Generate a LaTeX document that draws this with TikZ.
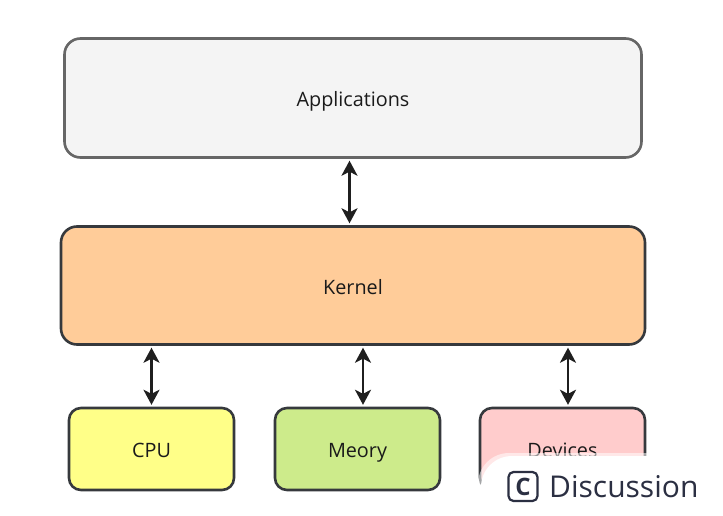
\documentclass[tikz,border=0pt]{standalone}
\usepackage{fontspec}
\setmainfont{Open Sans}
\usetikzlibrary{arrows.meta,calc}
\definecolor{edgedark}{HTML}{36393D}
\definecolor{edgegray}{HTML}{666666}
\definecolor{arrowcol}{HTML}{1F1F1F}
\definecolor{dtext}{HTML}{1A1A1A}
\definecolor{disctext}{HTML}{2B2F42}
\tikzset{
  x=1pt,y=-1pt,
  boxbase/.style={draw=edgedark,line width=2.6pt,rounded corners=12pt,anchor=north west,inner sep=0pt,outer sep=0pt,text=dtext,font=\fontsize{19.8}{22}\selectfont,text height=17.5pt,text depth=0pt},
  largebox/.style={boxbase,rounded corners=16pt},
  biarrow/.style={{Stealth[length=15pt,width=16pt,inset=4pt]}-{Stealth[length=15pt,width=16pt,inset=4pt]},line width=2.4pt,draw=arrowcol,shorten >=3.2pt,shorten <=3.2pt},
}
\begin{document}
\begin{tikzpicture}
\useasboundingbox (0,0) rectangle (723,516);
\fill[white] (0,0) rectangle (723,516);
\node[largebox,draw=edgegray,fill=black!4.5,minimum width=577pt,minimum height=119pt] (app) at (64.5,38.5) {Applications};
\node[largebox,fill={rgb,255:red,255;green,204;blue,153},minimum width=584pt,minimum height=118pt] (ker) at (61,226.5) {Kernel};
\node[boxbase,fill={rgb,255:red,255;green,255;blue,136},minimum width=165pt,minimum height=82pt] (cpu) at (69,408) {CPU};
\node[boxbase,fill={rgb,255:red,205;green,235;blue,139},minimum width=165pt,minimum height=82pt] (mem) at (275,408) {Meory};
\node[boxbase,fill={rgb,255:red,255;green,204;blue,204},minimum width=165pt,minimum height=82pt] (dev) at (480,408) {Devices};
\draw[biarrow] (app.south -| 349.5,0) -- (ker.north -| 349.5,0);
\draw[biarrow] (ker.south -| 151.5,0) -- (cpu.north -| 151.5,0);
\draw[biarrow] (ker.south -| 363,0) -- (mem.north -| 363,0);
\draw[biarrow] (ker.south -| 568,0) -- (dev.north -| 568,0);
% discussion overlay
\fill[white,opacity=.55,rounded corners=31pt] (478,530) -- (478,453) -- (760,453) -- (760,530) -- cycle;
\fill[white,rounded corners=31pt] (481,530) -- (481,456) -- (760,456) -- (760,530) -- cycle;
\node[draw=disctext,line width=2.2pt,rounded corners=5pt,minimum size=29pt,inner sep=0pt,font=\fontsize{24}{24}\selectfont\bfseries,text=disctext] (cicon) at (523,486.5) {C};
\node[anchor=west,inner sep=0pt,font=\fontsize{30}{32}\selectfont,text=disctext] (disc) at (549,487) {Discussion};
\end{tikzpicture}
\end{document}
